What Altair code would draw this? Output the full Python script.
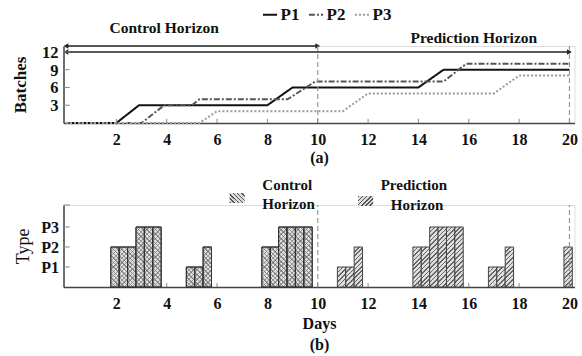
import altair as alt
import pandas as pd

FONT = "Liberation Serif, Times New Roman, DejaVu Serif, serif"

# ---------------- data ----------------
series = ["P1", "P2", "P3"]
p1_day = [0, 2, 2.9, 8, 9, 14, 15, 20]
p1_val = [0, 0, 3, 3, 6, 6, 9, 9]
p2_day = [0, 3, 3.9, 5, 5.3, 8.8, 9.9, 15, 15.9, 20]
p2_val = [0, 0, 3, 3, 4, 4, 7, 7, 10, 10]
p3_day = [0, 5.3, 6, 11, 12, 17, 18, 20]
p3_val = [0, 0, 2, 2, 5, 5, 8, 8]

day_ticks = [2, 4, 6, 8, 10, 12, 14, 16, 18, 20]
batch_ticks = [3, 6, 9, 12]
type_ticks = [1, 2, 3]
type_labels = ["P1", "P2", "P3"]

bar_day = [2, 2, 2, 3, 3, 3, 5, 5, 5, 8, 8, 8, 9, 9, 9,
           11, 11, 11, 14, 14, 14, 15, 15, 15, 17, 17, 17, 20]
bar_shift = [0, 1, 2] * 9 + [0]
bar_type = [2, 2, 2, 3, 3, 3, 1, 1, 2, 2, 2, 3, 3, 3, 3,
            1, 1, 2, 2, 2, 3, 3, 3, 3, 1, 1, 2, 2]

control_end = 10
horizon_end = 20
arrow_names = ["Control Horizon", "Prediction Horizon"]
arrow_start = [0, 0]
arrow_end = [10, 20]
arrow_level = [13, 12]

# ---------------- tables ----------------
lines = pd.DataFrame(
    [{"day": d, "val": v, "series": "P1", "o": i} for i, (d, v) in enumerate(zip(p1_day, p1_val))]
    + [{"day": d, "val": v, "series": "P2", "o": i} for i, (d, v) in enumerate(zip(p2_day, p2_val))]
    + [{"day": d, "val": v, "series": "P3", "o": i} for i, (d, v) in enumerate(zip(p3_day, p3_val))]
)
bars = pd.DataFrame({"day": bar_day, "shift": bar_shift, "type": bar_type})
bars["horizon"] = ["Control" if d <= control_end else "Prediction" for d in bar_day]
arrows = pd.DataFrame({"name": arrow_names, "start": arrow_start, "end": arrow_end, "level": arrow_level})
vlines = pd.DataFrame({"day": [control_end, horizon_end]})
dticks = pd.DataFrame({"day": day_ticks})
bticks = pd.DataFrame({"v": batch_ticks, "lab": [str(v) for v in batch_ticks]})

XDOM = [-0.1, 20.2]
W = 511
H1 = 77
H2 = 82
BARW = 25.1 / 3


def hatch(w, h, direction, n, dark, light, frac=0.35):
    c = (w + h) / (w * w + h * h)
    if direction == "/":
        x1, y1, x2, y2 = 0, 0, c * w, c * h
    else:
        x1, y1, x2, y2 = 0, 1, c * w, 1 - c * h
    stops = []
    for k in range(n):
        a = k / n
        b = a + frac / n
        stops += [{"offset": a, "color": dark}, {"offset": b, "color": dark},
                  {"offset": b, "color": light}, {"offset": (k + 1) / n, "color": light}]
    return alt.LinearGradient(gradient="linear", stops=stops, x1=x1, y1=y1, x2=x2, y2=y2)


xs = alt.Scale(domain=XDOM, nice=False, zero=False)
ys_top = alt.Scale(domain=[0, 13], nice=False)
ys_bot = alt.Scale(domain=[0, 4.1], nice=False)

ax_x_top = alt.Axis(values=day_ticks, title="(a)", grid=False, ticks=False,
                    labelFont=FONT, labelFontSize=16, labelFontWeight="bold",
                    labelColor="#111", labelPadding=8, domainColor="#444",
                    domainWidth=1.5, titleFont=FONT, titleFontSize=16,
                    titleFontWeight="bold", titlePadding=2, titleColor="#111")
ax_y_top = alt.Axis(values=batch_ticks, title="Batches", grid=False, ticks=False,
                    labels=False, domainColor="#444",
                    domainWidth=1.5, titleFont=FONT, titleFontSize=17,
                    titleFontWeight="bold", titleColor="#111", titlePadding=34)
ax_x_bot = alt.Axis(values=day_ticks, title=["Days", "(b)"], grid=False, ticks=False,
                    labelFont=FONT, labelFontSize=16, labelFontWeight="bold",
                    labelColor="#111", labelPadding=8, domainColor="#444",
                    domainWidth=1.5, titleFont=FONT, titleFontSize=16,
                    titleFontWeight="bold", titlePadding=4, titleColor="#111",
                    titleLineHeight=21)
ax_y_bot = alt.Axis(values=type_ticks, title="Type", grid=False, ticks=False,
                    labelOverlap=False,
                    labelExpr="['', 'P1', 'P2', 'P3'][datum.value]",
                    labelFont=FONT, labelFontSize=16, labelFontWeight="bold",
                    labelColor="#111", labelPadding=5, domainColor="#444",
                    domainWidth=1.5, titleFont=FONT, titleFontSize=18,
                    titleFontWeight="normal", titleColor="#111", titlePadding=8)


def xt(f):
    return alt.X(f, scale=xs, axis=ax_x_top)


def yt(f):
    return alt.Y(f, scale=ys_top, axis=ax_y_top)


def xb(f):
    return alt.X(f, scale=xs, axis=ax_x_bot)


def yb(f):
    return alt.Y(f, scale=ys_bot, axis=ax_y_bot)


# ---------------- top panel ----------------
line_layer = alt.Chart(lines).mark_line(strokeWidth=2, clip=False).encode(
    x=xt("day:Q"),
    y=yt("val:Q"),
    color=alt.Color("series:N", scale=alt.Scale(domain=series, range=["#111111", "#555555", "#9a9a9a"]),
                    legend=alt.Legend(orient="none", legendX=198, legendY=-40, direction="horizontal",
                                      title=None, symbolType="stroke", symbolSize=200,
                                      symbolStrokeWidth=2, labelFont=FONT, labelFontSize=17,
                                      labelFontWeight="bold", labelColor="#111",
                                      labelOffset=2, columnPadding=5)),
    strokeDash=alt.StrokeDash("series:N", scale=alt.Scale(domain=series, range=[[1, 0], [6, 2, 2, 2], [2, 2]]),
                              legend=None),
    order="o:Q",
)

vline_top = alt.Chart(vlines).mark_rule(color="#999", strokeDash=[5, 3], strokeWidth=1.2).encode(
    x=xt("day:Q"), y=alt.datum(0), y2=alt.datum(13))

tick_top = alt.Chart(dticks).mark_rule(color="#888", strokeWidth=1).encode(
    x=xt("day:Q"), y=alt.datum(0), y2=alt.datum(0.7))

ytick_top = alt.Chart(bticks).mark_rule(color="#888", strokeWidth=1).encode(
    y=yt("v:Q"), x=alt.datum(-0.1), x2=alt.datum(0.15))

ylab_top = alt.Chart(bticks).mark_text(font=FONT, fontSize=16.5, fontWeight="bold", color="#111",
                                       align="right", baseline="middle", dx=-5, dy=1).encode(
    y=yt("v:Q"), x=alt.datum(-0.1), text="lab:N")

arrow_line = alt.Chart(arrows).mark_rule(color="#222", strokeWidth=1.5).encode(
    x=xt("start:Q"), x2="end:Q", y=yt("level:Q"))
arrow_right = alt.Chart(arrows).mark_point(shape="triangle-right", filled=True, color="#222",
                                           size=30, opacity=1).encode(x=xt("end:Q"), y=yt("level:Q"))
arrow_left = alt.Chart(arrows).mark_point(shape="triangle-left", filled=True, color="#222",
                                          size=30, opacity=1).encode(x=xt("start:Q"), y=yt("level:Q"))

ann_top = alt.Chart(pd.DataFrame({
    "t": ["Control Horizon", "Prediction Horizon"], "x": [3.9, 16.2], "y": [16.1, 14.3]
})).mark_text(font=FONT, fontSize=15.5, fontWeight="bold", color="#111").encode(
    x=xt("x:Q"), y=yt("y:Q"), text="t:N")

top = alt.layer(line_layer, arrow_line, arrow_left, arrow_right, vline_top, tick_top, ytick_top,
                ylab_top, ann_top).properties(width=W, height=H1)

# ---------------- bottom panel ----------------
bar_base = alt.Chart(bars).transform_calculate(
    x0="datum.day - 0.22 + datum.shift / 3",
    x1="datum.day - 0.22 + (datum.shift + 1) / 3",
)

bar_layers = []
for t in type_ticks:
    h = 20 * t
    n = max(3, round((BARW + h) / 1.414 / 3.2))
    sub = bar_base.transform_filter(f"datum.type == {t}")
    # control: cross hatch
    bar_layers.append(sub.transform_filter("datum.horizon == 'Control'").mark_bar(
        fill=hatch(BARW, h, "\\", n, "#909090", "#e0e0e0"), stroke="#333", strokeWidth=1
    ).encode(x=xb("x0:Q"), x2="x1:Q", y=yb("type:Q"), y2=alt.datum(0)))
    bar_layers.append(sub.transform_filter("datum.horizon == 'Control'").mark_bar(
        fill=hatch(BARW, h, "/", n, "rgba(110,110,110,0.65)", "rgba(255,255,255,0)", 0.3),
        stroke="#333", strokeWidth=1
    ).encode(x=xb("x0:Q"), x2="x1:Q", y=yb("type:Q"), y2=alt.datum(0)))
    # prediction: single hatch
    bar_layers.append(sub.transform_filter("datum.horizon == 'Prediction'").mark_bar(
        fill=hatch(BARW, h, "/", n, "#666666", "#dedede"), stroke="#444", strokeWidth=1
    ).encode(x=xb("x0:Q"), x2="x1:Q", y=yb("type:Q"), y2=alt.datum(0)))

vline_bot = alt.Chart(vlines).mark_rule(color="#999", strokeDash=[5, 3], strokeWidth=1.2).encode(
    x=xb("day:Q"), y=alt.datum(0), y2=alt.datum(4.1))
tick_bot = alt.Chart(dticks).mark_rule(color="#888", strokeWidth=1).encode(
    x=xb("day:Q"), y=alt.datum(0), y2=alt.datum(0.2))
ytick_bot = alt.Chart(pd.DataFrame({"v": [1, 2, 3, 4.1]})).mark_rule(color="#888", strokeWidth=1).encode(
    y=yb("v:Q"), x=alt.datum(-0.1), x2=alt.datum(0.15))

leg = pd.DataFrame({"kind": ["Control", "Prediction"], "xs": [6.5, 11.6], "xe": [7.1, 12.2],
                    "ys": [4.2, 4.05], "ye": [4.7, 4.55]})
leg_c = alt.Chart(leg).transform_filter("datum.kind == 'Control'").mark_rect(
    fill=hatch(15, 10, "\\", 6, "#555", "#dcdcdc"), clip=False).encode(
    x=xb("xs:Q"), x2="xe:Q", y=yb("ys:Q"), y2="ye:Q")
leg_p = alt.Chart(leg).transform_filter("datum.kind == 'Prediction'").mark_rect(
    fill=hatch(15, 10, "/", 6, "#555", "#dcdcdc"), clip=False).encode(
    x=xb("xs:Q"), x2="xe:Q", y=yb("ys:Q"), y2="ye:Q")
leg_txt = alt.Chart(pd.DataFrame({
    "t": ["Control", "Horizon", "Prediction", "Horizon"],
    "x": [7.8, 7.8, 12.5, 12.9], "y": [5.1, 4.15, 5.1, 4.1]
})).mark_text(font=FONT, fontSize=15, fontWeight="bold", color="#111", align="left").encode(
    x=xb("x:Q"), y=yb("y:Q"), text="t:N")

bottom = alt.layer(*bar_layers, vline_bot, tick_bot, ytick_bot, leg_c, leg_p, leg_txt).properties(
    width=W, height=H2)

chart = alt.vconcat(top, bottom, spacing=11).properties(
    padding={"left": 10.5, "top": 6, "right": 2, "bottom": 2}
).configure_view(stroke=None).configure_axis(labelOverlap=False).configure(background="white")

chart.save("out.html", embed_options={"renderer": "svg", "actions": False})
